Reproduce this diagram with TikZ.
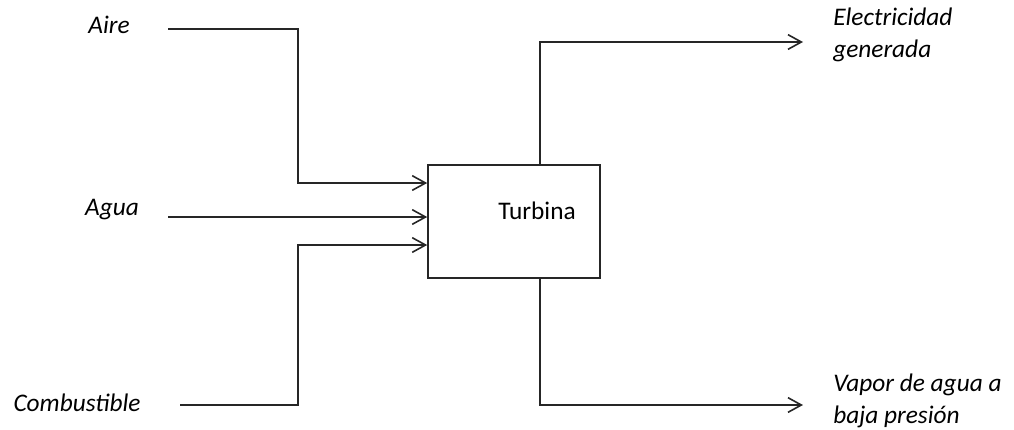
\documentclass[tikz,border=0pt]{standalone}
\usepackage{fontspec}
\setmainfont{Carlito}
\usetikzlibrary{arrows.meta,positioning}

\begin{document}
\begin{tikzpicture}[
  x=0.75pt, y=-0.75pt,
  font=\fontsize{19}{24}\selectfont,
  lbl/.style={inner sep=0pt, align=left, font=\fontsize{19}{24}\selectfont\itshape},
  box/.style={draw=black!85, line width=1.2pt, minimum width=129pt, minimum height=85pt,
              inner sep=0pt},
  arr/.style={-{Straight Barb[length=10pt, width=11pt, line width=1.2pt]},
              draw=black!85, line width=1.2pt},
]
\useasboundingbox (0,0) rectangle (1014,429);
% turbina
\node[box] (box) at (514,221.5) {};
\node (turb) at (537,211) {Turbina};
% entradas
\node[lbl] (aire) at (109,25) {Aire};
\node[lbl] (agua) at (112,210) {Agua};
\node[lbl] (comb) at (77,403) {Combustible};
\coordinate (aire0) at (168,29);
\coordinate (aire1) at (298,183);
\coordinate (agua0) at (168,217);
\coordinate (comb0) at (180,405);
\coordinate (comb1) at (298,245);
\draw[arr] (aire0) -| (aire1) -- (aire1 -| box.west);
\draw[arr] (agua0) -- (agua0 -| box.west);
\draw[arr] (comb0) -| (comb1) -- (comb1 -| box.west);
% salidas
\node[lbl, anchor=north west] (elec) at (833,8) {Electricidad\\generada};
\node[lbl, anchor=north west] (vap) at (833,374) {Vapor de agua a\\baja presión};
\coordinate (tap) at (540,0);
\coordinate (elec0) at (803,42);
\coordinate (vap0) at (803,405);
\draw[arr] (tap |- box.north) |- (elec0);
\draw[arr] (tap |- box.south) |- (vap0);
\end{tikzpicture}
\end{document}
